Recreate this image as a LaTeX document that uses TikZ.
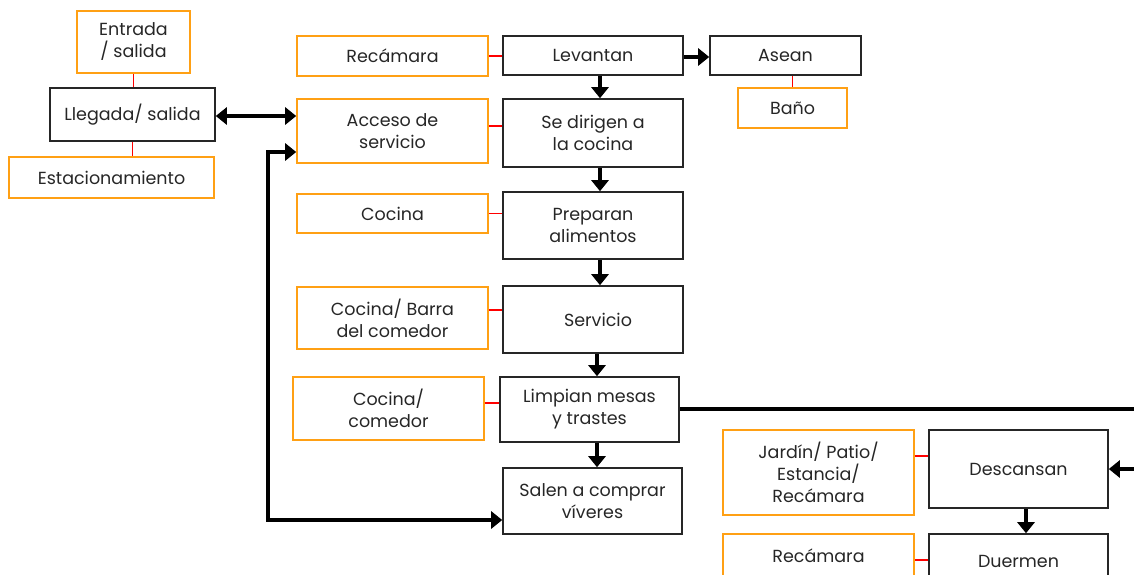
\documentclass[tikz,border=0pt]{standalone}
\usepackage{fontspec}
\setmainfont{Poppins}
\usetikzlibrary{arrows.meta}
\definecolor{ob}{RGB}{255,160,20}
\tikzset{
  bbox/.style={draw=black!85,line width=1.6pt,align=center,inner sep=0pt,text=black!85,font=\fontsize{17.5}{22}\selectfont},
  obox/.style={draw=ob,line width=1.6pt,align=center,inner sep=0pt,text=black!85,font=\fontsize{17.5}{22}\selectfont},
  rl/.style={draw=red,line width=1.1pt},
  arr/.style={line width=3.4pt,-{Triangle[width=17pt,length=11pt]}},
  darr/.style={line width=3.4pt,{Triangle[width=17pt,length=11pt]}-{Triangle[width=17pt,length=11pt]}},
  pl/.style={line width=3.4pt}
}
\begin{document}
\begin{tikzpicture}[x=1pt,y=-1pt]
\clip (0,0) rectangle (1134,574);
% left group
\node[obox,minimum width=113,minimum height=62] (ent) at (133.5,42) {Entrada\\ / salida};
\node[bbox,minimum width=165,minimum height=53] (lleg) at (132.5,114.5) {Llegada/ salida};
\node[obox,minimum width=205,minimum height=41] (est) at (111.5,177.5) {Estacionamiento};
\draw[rl] (ent.south) -- (ent.south |- lleg.north);
\draw[rl] (lleg.south) -- (lleg.south |- est.north);
% orange column
\node[obox,minimum width=191,minimum height=40] (rec1) at (392.5,56) {Recámara};
\node[obox,minimum width=191,minimum height=64] (acc) at (392.5,131) {Acceso de\\ servicio};
\node[obox,minimum width=191,minimum height=39] (coc1) at (392.5,213.5) {Cocina};
\node[obox,minimum width=191,minimum height=62] (coc2) at (392.5,318) {Cocina/ Barra\\ del comedor};
\node[obox,minimum width=191,minimum height=63] (coc3) at (388.5,408.5) {Cocina/\\ comedor};
% black column
\node[bbox,minimum width=180,minimum height=39] (lev) at (593,55.5) {Levantan};
\node[bbox,minimum width=180,minimum height=68] (dir) at (593,133) {Se dirigen a\\ la cocina};
\node[bbox,minimum width=180,minimum height=67] (prep) at (593,225.5) {Preparan\\ alimentos};
\node[bbox,minimum width=180,minimum height=67] (serv) at (593,319.5) {\hspace*{10pt}Servicio};
\node[bbox,minimum width=179,minimum height=65] (limp) at (589.5,409.5) {Limpian mesas\\ y trastes};
\node[bbox,minimum width=179,minimum height=66] (sal) at (592.5,501) {Salen a comprar\\ víveres};
% right
\node[bbox,minimum width=151,minimum height=39] (ase) at (785.5,55.5) {Asean};
\node[obox,minimum width=109,minimum height=40] (ban) at (792.5,108) {Baño};
\node[obox,minimum width=191,minimum height=85] (jar) at (818.5,472.5) {Jardín/ Patio/\\ Estancia/\\ Recámara};
\node[bbox,minimum width=179,minimum height=78] (desc) at (1018.5,469) {Descansan};
\node[obox,minimum width=191,minimum height=44] (rec2) at (818.5,556) {Recámara};
\node[bbox,minimum width=179,minimum height=54] (duer) at (1018.5,561) {Duermen};
% red connectors
\draw[rl] (rec1.east) -- (lev.west |- rec1.east);
\draw[rl] (acc.east |- 0,126) -- (dir.west |- 0,126);
\draw[rl] (coc1.east) -- (prep.west |- coc1.east);
\draw[rl] (coc2.east |- 0,310) -- (serv.west |- 0,310);
\draw[rl] (coc3.east |- 0,403) -- (limp.west |- 0,403);
\draw[rl] (jar.east |- 0,456) -- (desc.west |- 0,456);
\draw[rl] (rec2.east |- 0,560) -- (duer.west |- 0,560);
\draw[rl] (ase.south -| ban.north) -- (ban.north);
% black arrows
\draw[arr] (lev.south -| 600,0) -- (dir.north -| 600,0);
\draw[arr] (dir.south -| 600,0) -- (prep.north -| 600,0);
\draw[arr] (prep.south -| 600,0) -- (serv.north -| 600,0);
\draw[arr] (serv.south -| 597,0) -- (limp.north -| 597,0);
\draw[arr] (limp.south -| 597,0) -- (sal.north -| 597,0);
\draw[arr] (desc.south -| 1026,0) -- (duer.north -| 1026,0);
\draw[arr] (lev.east |- 0,57) -- (ase.west |- 0,57);
\draw[darr] (lleg.east |- 0,116) -- (acc.west |- 0,116);
\coordinate (c1) at (268,152);
\coordinate (c2) at (268,520);
\draw[darr] (acc.west |- c1) -- (c1) -- (c2) -- (sal.west |- c2);
\coordinate (r1) at (1140,409);
\draw[pl] (limp.east |- r1) -- (r1);
\coordinate (r2) at (1140,469);
\draw[arr] (r2) -- (desc.east |- r2);
\end{tikzpicture}
\end{document}
